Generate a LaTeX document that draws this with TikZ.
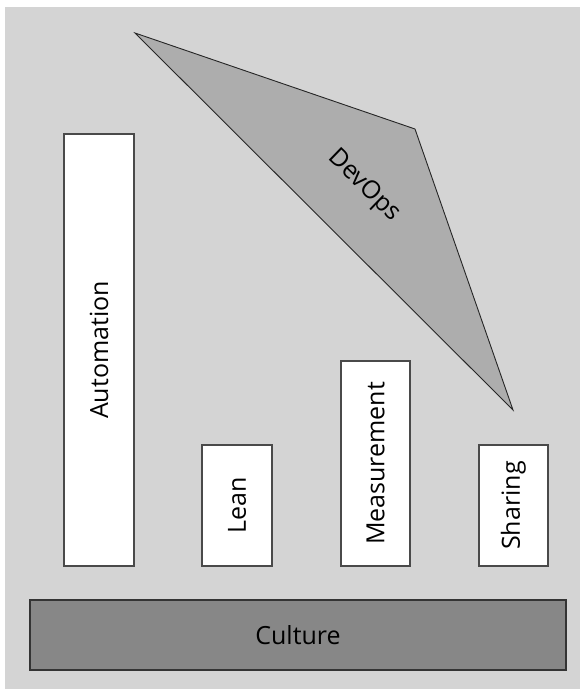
\documentclass[tikz,border=0pt]{standalone}
\usepackage{fontspec}
\setmainfont{Open Sans}
\definecolor{bggray}{HTML}{D4D4D4}
\definecolor{culturegray}{HTML}{878787}
\definecolor{devopsgray}{HTML}{ADADAD}
\definecolor{edgegray}{HTML}{4A4A4A}
\begin{document}
\begin{tikzpicture}[x=1pt,y=-1pt,
  pillar/.style={draw=edgegray, line width=1.3pt, fill=white, rotate=90, inner sep=0pt,
    font=\fontsize{25}{29}\selectfont},
  base/.style={draw=edgegray!70!black, line width=1.3pt, fill=culturegray, inner sep=0pt,
    font=\fontsize{25}{29}\selectfont},
  roof/.style={draw=black!85, line width=0.9pt, fill=devopsgray, line join=miter},
  roofText/.style={font=\fontsize{25}{29}\selectfont, rotate=-44}
]
\useasboundingbox (0,0) rectangle (580,689);
\fill[bggray] (5,7) rectangle (580,689);
% pillars
\node[pillar, minimum width=432, minimum height=70] (automation) at (99,350) {Automation};
\node[pillar, minimum width=121, minimum height=70] (lean) at (237,505.5) {Lean};
\node[pillar, minimum width=205, minimum height=69] (measurement) at (375.5,463.5) {Measurement};
\node[pillar, minimum width=121, minimum height=69] (sharing) at (513.5,505.5) {Sharing};
% base
\node[base, minimum width=536, minimum height=70] (culture) at (298,635) {Culture};
% roof
\coordinate (d1) at (135,33);
\coordinate (d2) at (415,129);
\coordinate (d3) at (513,410);
\draw[roof] (d1) -- (d2) -- (d3) -- cycle;
\node[roofText] (devops) at (364,186) {DevOps};
\end{tikzpicture}
\end{document}
